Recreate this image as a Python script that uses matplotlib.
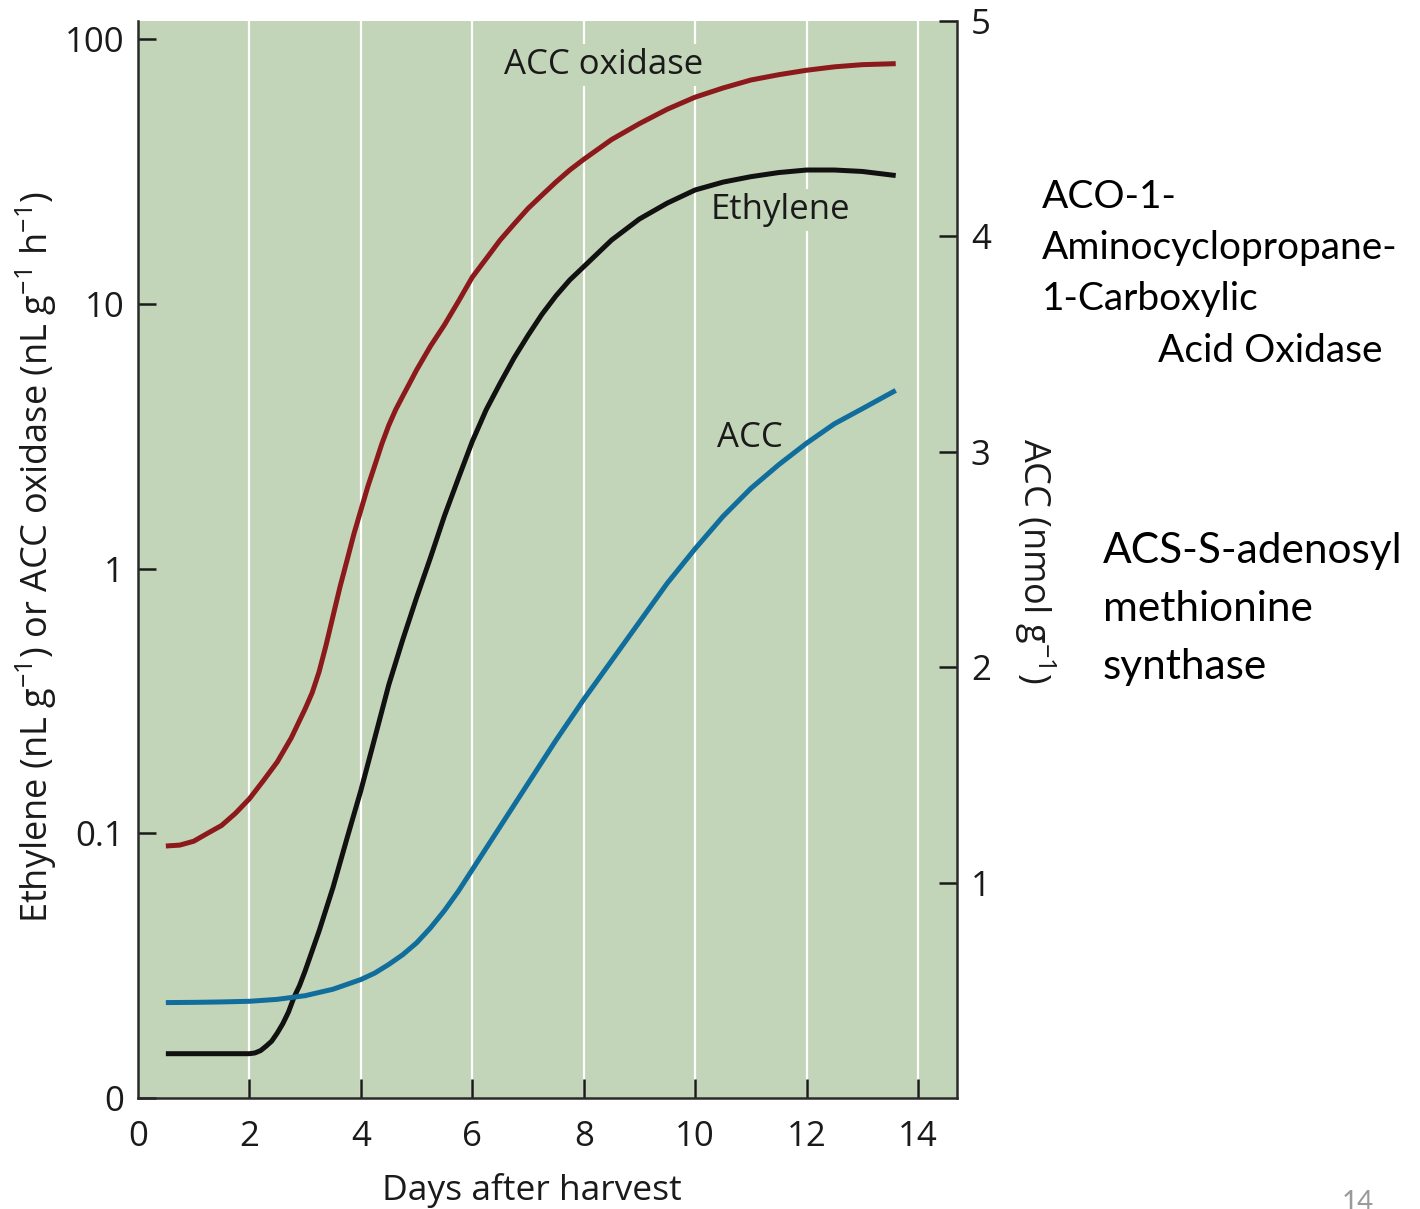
import matplotlib
matplotlib.use('Agg')
import matplotlib.pyplot as plt
from matplotlib.ticker import NullLocator

# ---------------- data ----------------
days_ethylene = [0.5, 1.0, 1.5, 2.0, 2.1, 2.2, 2.3, 2.4, 2.5, 2.6, 2.7, 2.8, 2.9, 3.0,
                 3.25, 3.5, 3.75, 4.0, 4.25, 4.5, 4.75, 5.0, 5.25, 5.5, 5.75, 6.0,
                 6.25, 6.5, 6.75, 7.0, 7.25, 7.5, 7.75, 8.0, 8.5, 9.0, 9.5, 10.0,
                 10.5, 11.0, 11.5, 12.0, 12.5, 13.0, 13.6]
ethylene = [0.0147, 0.0147, 0.0147, 0.0147, 0.0148, 0.0151, 0.0157, 0.0164, 0.0176,
            0.0191, 0.0211, 0.0240, 0.0266, 0.0302, 0.0427, 0.0624, 0.0955, 0.145,
            0.229, 0.363, 0.537, 0.776, 1.10, 1.58, 2.19, 3.02, 3.98, 5.01, 6.24,
            7.59, 9.12, 10.7, 12.3, 13.8, 17.4, 20.9, 24.0, 26.9, 28.8, 30.2, 31.3,
            32.0, 32.0, 31.6, 30.5]

days_oxidase = [0.5, 0.75, 1.0, 1.25, 1.5, 1.75, 2.0, 2.25, 2.5, 2.75, 3.0, 3.125,
                3.25, 3.375, 3.5, 3.625, 3.75, 3.875, 4.0, 4.125, 4.25, 4.375, 4.5,
                4.625, 4.75, 4.875, 5.0, 5.25, 5.5, 5.75, 6.0, 6.25, 6.5, 6.75, 7.0,
                7.25, 7.5, 7.75, 8.0, 8.5, 9.0, 9.5, 10.0, 10.5, 11.0, 11.5, 12.0,
                12.5, 13.0, 13.6]
acc_oxidase = [0.0895, 0.0902, 0.0933, 0.100, 0.107, 0.119, 0.135, 0.158, 0.186,
               0.229, 0.295, 0.339, 0.407, 0.513, 0.661, 0.851, 1.07, 1.35, 1.66,
               2.04, 2.45, 2.95, 3.47, 3.98, 4.47, 5.01, 5.62, 6.92, 8.32, 10.2,
               12.6, 14.8, 17.4, 20.0, 22.9, 25.7, 28.8, 32.0, 35.1, 41.7, 47.9,
               54.3, 60.3, 65.3, 70.0, 73.3, 76.2, 78.5, 80.0, 80.7]

days_acc = [0.5, 1.0, 1.5, 2.0, 2.5, 3.0, 3.5, 4.0, 4.25, 4.5, 4.75, 5.0, 5.25, 5.5,
            5.75, 6.0, 6.25, 6.5, 6.75, 7.0, 7.5, 8.0, 8.5, 9.0, 9.5, 10.0, 10.5,
            11.0, 11.5, 12.0, 12.5, 13.0, 13.6]
acc = [0.443, 0.444, 0.446, 0.449, 0.458, 0.475, 0.505, 0.55, 0.58, 0.62, 0.665,
       0.72, 0.79, 0.87, 0.96, 1.06, 1.16, 1.26, 1.36, 1.46, 1.66, 1.85, 2.03, 2.21,
       2.39, 2.55, 2.70, 2.83, 2.94, 3.04, 3.13, 3.20, 3.285]

x_ticks = [0, 2, 4, 6, 8, 10, 12, 14]
left_ticks = [0.01, 0.1, 1, 10, 100]
left_labels = ['0', '0.1', '1', '10', '100']
right_ticks = [1, 2, 3, 4, 5]

BG = '#C3D5B8'
RED = '#8C1A1C'
BLACK = '#111111'
BLUE = '#116E9C'
SPINE = '#2a2a2a'
TXT = '#1a1a1a'

plt.rcParams['font.family'] = ['Open Sans', 'DejaVu Sans']
plt.rcParams['mathtext.fontset'] = 'custom'
plt.rcParams['mathtext.rm'] = 'Open Sans'
plt.rcParams['mathtext.default'] = 'regular'

W, H = 1420, 1209
fig = plt.figure(figsize=(W / 100, H / 100), dpi=100)
ax = fig.add_axes([138 / W, (H - 1098) / H, 819 / W, 1077 / H])
ax.set_facecolor(BG)
ax.set_yscale('log')
ax.set_ylim(10 ** -1.996, 10 ** 2.068)
ax.set_xlim(0, 14.7)
ax.set_axisbelow(True)

line_kw = dict(lw=3.6, solid_capstyle='butt', solid_joinstyle='round', zorder=3)
ax.plot(days_oxidase, acc_oxidase, color=RED, **line_kw)
ax.plot(days_ethylene, ethylene, color=BLACK, **line_kw)

ax.set_xticks(x_ticks)
ax.set_xticklabels([str(t) for t in x_ticks])
ax.grid(axis='x', color='white', lw=1.6)
ax.set_yticks(left_ticks)
ax.set_yticklabels(left_labels)
ax.yaxis.set_minor_locator(NullLocator())
for t in ax.yaxis.get_major_ticks():
    if abs(t.get_loc() - 0.01) < 1e-9:
        t.tick1line.set_visible(False)
for t in ax.xaxis.get_major_ticks():
    if t.get_loc() == 0:
        t.tick1line.set_visible(False)

ax.tick_params(axis='y', direction='in', length=13, width=1.8, pad=10,
               labelsize=25, colors=TXT)
ax.tick_params(axis='x', direction='in', length=14, width=1.8, pad=16,
               labelsize=25, colors=TXT)
for side in ['left', 'bottom']:
    ax.spines[side].set_color(SPINE)
    ax.spines[side].set_linewidth(1.8)
ax.spines['top'].set_visible(False)
ax.spines['right'].set_visible(False)

ax2 = ax.twinx()
ax2.set_ylim(0, 5)
ax2.plot(days_acc, acc, color=BLUE, **line_kw)
ax2.set_yticks(right_ticks)
ax2.set_yticklabels([str(t) for t in right_ticks])
ax2.tick_params(axis='y', direction='in', length=13, width=1.8, pad=10,
                labelsize=25, colors=TXT)
ax2.spines['right'].set_color(SPINE)
ax2.spines['right'].set_linewidth(1.8)
for side in ['top', 'left', 'bottom']:
    ax2.spines[side].set_visible(False)

box = dict(boxstyle='square,pad=0.12', fc=BG, ec='none')
ax.text(0.568, 0.959, 'ACC oxidase', transform=ax.transAxes, ha='center',
        va='center', fontsize=25, color=TXT, bbox=box, zorder=2.5)
ax.text(0.784, 0.8245, 'Ethylene', transform=ax.transAxes, ha='center',
        va='center', fontsize=25, color=TXT, bbox=box, zorder=2.5)
ax.text(0.747, 0.613, 'ACC', transform=ax.transAxes, ha='center',
        va='center', fontsize=25, color=TXT, bbox=box, zorder=2.5)

fig.text(36 / W, 1 - 557 / H,
         'Ethylene (nL g$^{-1}$) or ACC oxidase (nL g$^{-1}$ h$^{-1}$)',
         rotation=90, ha='center', va='center', fontsize=26, color=TXT)
fig.text(1035 / W, 1 - 561 / H, 'ACC (nmol g$^{-1}$)', rotation=270,
         ha='center', va='center', fontsize=26, color=TXT)
fig.text(532 / W, 1 - 1190 / H, 'Days after harvest', ha='center', va='center',
         fontsize=25.5, color=TXT)

side_font = ['Lato', 'DejaVu Sans']
fig.text(1042 / W, 1 - 197 / H, 'ACO-1-', ha='left', va='center', fontsize=28,
         family=side_font, color='black')
fig.text(1042 / W, 1 - 248 / H, 'Aminocyclopropane-', ha='left', va='center',
         fontsize=28, family=side_font, color='black')
fig.text(1042 / W, 1 - 299 / H, '1-Carboxylic', ha='left', va='center',
         fontsize=28, family=side_font, color='black')
fig.text(1158 / W, 1 - 351 / H, 'Acid Oxidase', ha='left', va='center',
         fontsize=28, family=side_font, color='black')
fig.text(1103 / W, 1 - 551 / H, 'ACS-S-adenosyl', ha='left', va='center',
         fontsize=30.5, family=side_font, color='black')
fig.text(1103 / W, 1 - 609 / H, 'methionine', ha='left', va='center',
         fontsize=30.5, family=side_font, color='black')
fig.text(1103 / W, 1 - 667 / H, 'synthase', ha='left', va='center',
         fontsize=30.5, family=side_font, color='black')
fig.text(1342 / W, 1 - 1190 / H, '14', ha='left', va='top', fontsize=20,
         family=side_font, color='#9a9a9a')

fig.savefig('out.png', dpi=100, facecolor='white')
